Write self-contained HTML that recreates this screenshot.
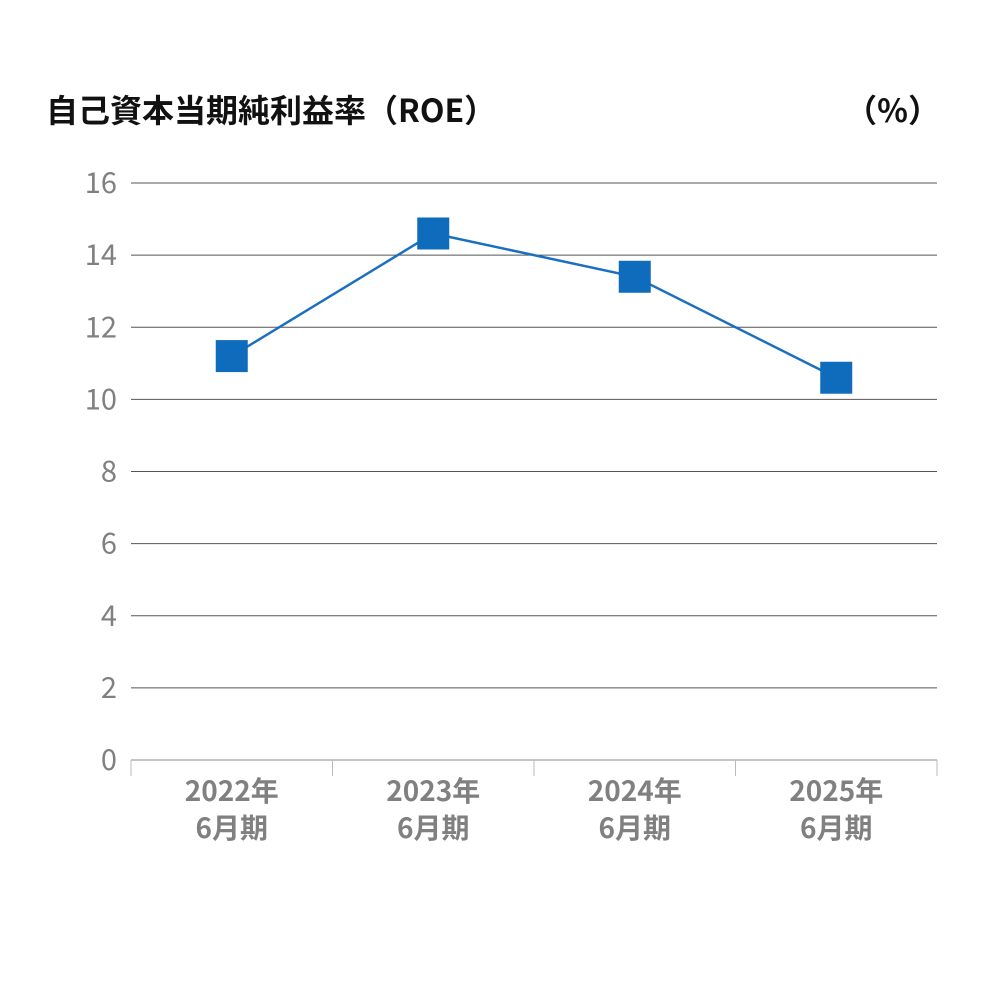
<!DOCTYPE html>
<html><head><meta charset="utf-8">
<style>
body{margin:0;background:#fff;}
svg text{font-family:"Noto Sans CJK JP","Liberation Sans",sans-serif;}
</style></head>
<body>
<svg id="chart" width="1000" height="1000" viewBox="0 0 1000 1000" xmlns="http://www.w3.org/2000/svg">
<rect width="1000" height="1000" fill="#fff"/>
<text x="46" y="122" font-size="32" font-weight="bold" fill="#111">自己資本当期純利益率（ROE）</text>
<text x="940" y="122" font-size="32" font-weight="bold" fill="#111" text-anchor="end">（%）</text>
<g id="grid"></g>
<g id="xaxis"></g>
<g id="series"></g>
</svg>
<script>
const categories = ["2022年|6月期","2023年|6月期","2024年|6月期","2025年|6月期"];
const roeValues = [11.2, 14.6, 13.4, 10.6];
const yTicks = [0,2,4,6,8,10,12,14,16];
const NS="http://www.w3.org/2000/svg";
const x0=131,x1=937,yBase=760,yTop=183,yMax=16;
const band=(x1-x0)/categories.length;
function xPos(i){return x0+band*(i+0.5);}
function yPos(v){return yBase-(v/yMax)*(yBase-yTop);}
function mk(tag,attrs,parent){const e=document.createElementNS(NS,tag);for(const k in attrs)e.setAttribute(k,attrs[k]);parent.appendChild(e);return e;}
const grid=document.getElementById('grid');
yTicks.forEach(t=>{
  const y=yPos(t);
  const l=mk('line',{x1:x0,x2:x1,y1:y,y2:y,stroke:t===0?'#888':'#555','stroke-width':1},grid);
  
  
  const tx=mk('text',{x:117,y:y+10,'font-size':29,fill:'#808080','text-anchor':'end'},grid);
  tx.textContent=t;
  
  
});
const xa=document.getElementById('xaxis');
for(let i=0;i<=categories.length;i++){
  const x=x0+band*i;
  const l=mk('line',{x1:x,x2:x,y1:yBase,y2:yBase+16,stroke:'#bbb','stroke-width':1},xa);
  
  
}
categories.forEach((c,i)=>{
  const parts=c.split('|');
  parts.forEach((p,j)=>{
    const t=mk('text',{x:xPos(i),y:801+j*37,'font-size':28,'font-weight':'bold',fill:'#808080','text-anchor':'middle'},xa);
    t.textContent=p;
    
    
  });
});
const s=document.getElementById('series');
const pts=roeValues.map((v,i)=>xPos(i)+','+yPos(v)).join(' ');
const pl=mk('polyline',{points:pts,fill:'none',stroke:'#1a6fbf','stroke-width':2.5},s);


roeValues.forEach((v,i)=>{
  const r=mk('rect',{x:xPos(i)-16,y:yPos(v)-16,width:32,height:32,fill:'#0f6cbd'},s);
  
  
});
</script>
</body></html>
